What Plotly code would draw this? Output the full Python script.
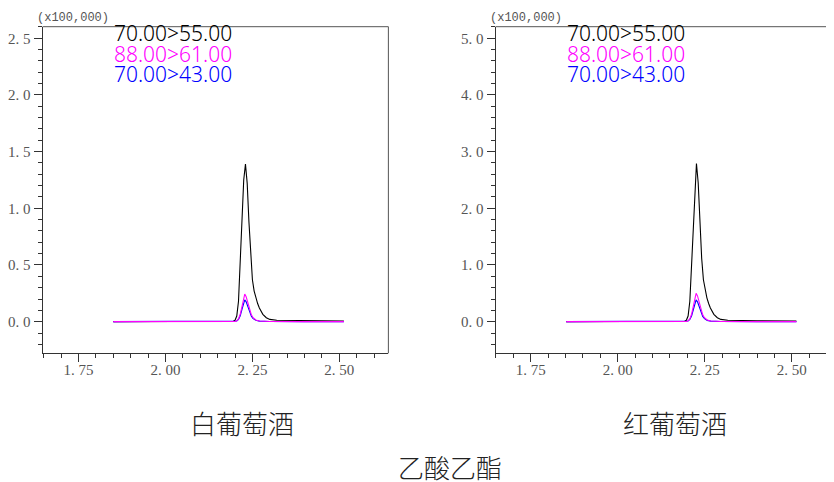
import plotly.graph_objects as go

# ---------------- data ----------------
# Left panel: 白葡萄酒 (intensity in units of x100,000)
wt_black_x = [1.850, 2.000, 2.150, 2.195, 2.200, 2.205, 2.210, 2.215, 2.220, 2.225, 2.230, 2.235,
              2.240, 2.245, 2.250, 2.255, 2.260, 2.265, 2.270, 2.280, 2.290, 2.300, 2.320, 2.400, 2.513]
wt_black_y = [0.000, 0.000, 0.002, 0.004, 0.012, 0.050, 0.180, 0.500, 0.900, 1.250, 1.390, 1.220,
              0.880, 0.560, 0.370, 0.270, 0.210, 0.160, 0.120, 0.065, 0.035, 0.020, 0.012, 0.008, 0.006]

wt_mag_x = [1.850, 2.000, 2.150, 2.200, 2.205, 2.210, 2.215, 2.220, 2.225, 2.228, 2.232, 2.237,
            2.242, 2.247, 2.252, 2.260, 2.270, 2.280, 2.300, 2.400, 2.513]
wt_mag_y = [0.000, 0.000, 0.000, 0.002, 0.008, 0.025, 0.065, 0.135, 0.210, 0.243, 0.220, 0.160,
            0.100, 0.060, 0.035, 0.015, 0.006, 0.003, 0.001, 0.000, 0.000]

wt_blue_x = wt_mag_x
wt_blue_y = [0.000, 0.000, 0.000, 0.002, 0.006, 0.020, 0.052, 0.108, 0.168, 0.193, 0.175, 0.127,
             0.080, 0.047, 0.027, 0.012, 0.005, 0.002, 0.001, 0.000, 0.000]

# Right panel: 红葡萄酒
rd_black_x = [1.852, 2.000, 2.150, 2.192, 2.197, 2.202, 2.207, 2.212, 2.217, 2.222, 2.226, 2.231,
              2.236, 2.241, 2.246, 2.251, 2.256, 2.261, 2.266, 2.276, 2.286, 2.296, 2.316, 2.400, 2.513]
rd_black_y = [0.000, 0.000, 0.004, 0.008, 0.025, 0.100, 0.360, 1.000, 1.800, 2.500, 2.790, 2.450,
              1.760, 1.120, 0.740, 0.540, 0.420, 0.320, 0.240, 0.130, 0.070, 0.040, 0.024, 0.016, 0.012]

rd_mag_x = [1.852, 2.000, 2.150, 2.197, 2.202, 2.207, 2.212, 2.217, 2.222, 2.225, 2.229, 2.234,
            2.239, 2.244, 2.249, 2.257, 2.267, 2.277, 2.297, 2.400, 2.513]
rd_mag_y = [0.000, 0.000, 0.000, 0.004, 0.016, 0.050, 0.130, 0.270, 0.430, 0.500, 0.455, 0.330,
            0.205, 0.120, 0.070, 0.030, 0.012, 0.006, 0.002, 0.000, 0.000]

rd_blue_x = rd_mag_x
rd_blue_y = [0.000, 0.000, 0.000, 0.003, 0.012, 0.038, 0.100, 0.210, 0.330, 0.385, 0.350, 0.255,
             0.158, 0.092, 0.054, 0.023, 0.009, 0.005, 0.002, 0.000, 0.000]

left_yticks = [0.0, 0.5, 1.0, 1.5, 2.0, 2.5]
right_yticks = [0.0, 1.0, 2.0, 3.0, 4.0, 5.0]
x_ticks = [1.75, 2.00, 2.25, 2.50]

legend_labels = ["70.00>55.00", "88.00>61.00", "70.00>43.00"]
legend_colors = ["#000000", "#ff00ff", "#0000ff"]
sample_labels = ["白葡萄酒", "红葡萄酒"]
compound_label = "乙酸乙酯"
scale_label = "(x100,000)"

# ---------------- figure ----------------
OFF = 8                      # page body margin
W, H = 834 - OFF, 482 - OFF


def PX(px):
    return (px - OFF) / W


def PY(py):
    return 1 - (py - OFF) / H


fig = go.Figure()


def add(x, y, color, ax):
    fig.add_trace(go.Scatter(x=x, y=y, mode="lines", line=dict(color=color, width=1.1),
                             xaxis=ax[0], yaxis=ax[1], showlegend=False, hoverinfo="skip"))


add(wt_black_x, wt_black_y, "#000000", ("x", "y"))
add(wt_blue_x, wt_blue_y, "#0000ff", ("x", "y"))
add(wt_mag_x, wt_mag_y, "#ff00ff", ("x", "y"))
add(rd_black_x, rd_black_y, "#000000", ("x2", "y2"))
add(rd_blue_x, rd_blue_y, "#0000ff", ("x2", "y2"))
add(rd_mag_x, rd_mag_y, "#ff00ff", ("x2", "y2"))

tickfont = dict(family="Liberation Serif", size=15, color="#555555")
axcol = "#333333"


def fmt(v, d):
    s = f"{v:.{d}f}"
    return s.replace(".", ". ")


ydom = [PY(353.3), PY(26.7)]
lx = [PX(40.7), PX(387.3)]
rx = [PX(494.7), 1.0]

xcommon = dict(showgrid=False, zeroline=False, showline=True, linecolor=axcol, linewidth=1,
               ticks="outside", ticklen=8, tickcolor=axcol, tickwidth=1, ticklabelstandoff=-5,
               tickvals=x_ticks, ticktext=[fmt(v, 2) for v in x_ticks], tickfont=tickfont,
               minor=dict(dtick=0.05, tick0=0, ticks="outside", ticklen=4, tickcolor=axcol, tickwidth=1))

fig.update_layout(
    width=W, height=H, margin=dict(l=0, r=0, t=0, b=0),
    paper_bgcolor="white", plot_bgcolor="white",
    xaxis=dict(xcommon, domain=lx, range=[1.6467, 2.641], anchor="y"),
    yaxis=dict(domain=ydom, range=[-0.279, 2.602], showgrid=False, zeroline=False, showline=True,
               linecolor=axcol, linewidth=1, ticks="outside", ticklen=8, tickcolor=axcol,
               tickvals=left_yticks, ticktext=[fmt(v, 1) for v in left_yticks], tickfont=tickfont,
               minor=dict(dtick=0.1, tick0=0, ticks="outside", ticklen=4, tickcolor=axcol),
               anchor="x"),
    xaxis2=dict(xcommon, domain=rx, range=[1.649, 2.621], anchor="y2"),
    yaxis2=dict(domain=ydom, range=[-0.558, 5.204], showgrid=False, zeroline=False, showline=True,
                linecolor=axcol, linewidth=1, ticks="outside", ticklen=8, tickcolor=axcol,
                tickvals=right_yticks, ticktext=[fmt(v, 1) for v in right_yticks], tickfont=tickfont,
                minor=dict(dtick=0.2, tick0=0, ticks="outside", ticklen=4, tickcolor=axcol),
                anchor="x2"),
)

# frame lines (top + right for left panel, top for right panel)
fcol = "#555555"
fig.add_shape(type="line", xref="paper", yref="paper", x0=lx[0], x1=lx[1], y0=ydom[1], y1=ydom[1],
              line=dict(color=fcol, width=1))
fig.add_shape(type="line", xref="paper", yref="paper", x0=lx[1], x1=lx[1], y0=ydom[0], y1=ydom[1],
              line=dict(color=fcol, width=1))
fig.add_shape(type="line", xref="paper", yref="paper", x0=rx[0], x1=rx[1], y0=ydom[1], y1=ydom[1],
              line=dict(color=fcol, width=1))

# scale labels
for px in (33, 487):
    fig.add_annotation(text=scale_label, xref="paper", yref="paper", x=PX(px), y=PY(18),
                       xanchor="left", yanchor="middle", showarrow=False,
                       font=dict(family="Liberation Mono", size=12, color="#555555"))

# legend texts
for px in (110, 564):
    for i, (lab, col) in enumerate(zip(legend_labels, legend_colors)):
        fig.add_annotation(text=lab, xref="paper", yref="paper", x=PX(px), y=PY(33.5 + 20.3 * i),
                           xanchor="left", yanchor="middle", showarrow=False,
                           font=dict(family="Noto Sans", size=21, color=col, weight=300))

# sample labels
for cx, lab in zip((241, 675), sample_labels):
    fig.add_annotation(text=lab, xref="paper", yref="paper", x=PX(cx), y=PY(422),
                       xanchor="center", yanchor="middle", showarrow=False,
                       font=dict(family="Noto Sans CJK SC", size=26, color="#222222", weight=300))

fig.add_annotation(text=compound_label, xref="paper", yref="paper", x=PX(449), y=PY(466),
                   xanchor="center", yanchor="middle", showarrow=False,
                   font=dict(family="Noto Sans CJK SC", size=26, color="#222222", weight=300))

fig.write_html("out.html")
